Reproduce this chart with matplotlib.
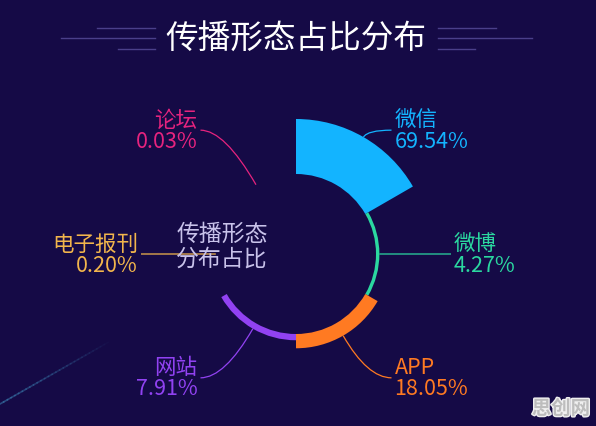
import numpy as np
import matplotlib
matplotlib.use('Agg')
import matplotlib.pyplot as plt
from matplotlib.patches import Wedge, PathPatch
from matplotlib.path import Path
import matplotlib.patheffects as pe

plt.rcParams['font.family'] = ['Noto Sans CJK SC', 'DejaVu Sans']

# Datos
nombres = ['微信', '微博', 'APP', '网站', '电子报刊', '论坛']
valores = [69.54, 4.27, 18.05, 7.91, 0.20, 0.03]
colores = ['#13b4ff', '#2bd8a0', '#ff7a22', '#9142f2', '#f2b54c', '#e6237e']
titulo = '传播形态占比分布'
centro_txt = '传播形态\n分布占比'

bg = '#150a46'
W, H = 596, 427
cx, cy = 296, 255
r0, r1 = 80, 135

fig = plt.figure(figsize=(W/100, H/100), dpi=100, facecolor=bg)
ax = fig.add_axes([0, 0, 1, 1])
ax.set_xlim(0, W)
ax.set_ylim(H, 0)
ax.set_aspect('equal')
ax.axis('off')
ax.set_facecolor(bg)

# Rosa tipo 'area': angulos iguales, radio segun valor
n = len(valores)
paso = 360 / n
vmax = max(valores)
for i, (nom, v, c) in enumerate(zip(nombres, valores, colores)):
    # eje y invertido: angulos en sentido horario desde las 12
    a_ini = -90 + i*paso
    a_fin = a_ini + paso
    r = r0 + (r1 - r0)*v/vmax
    if r - r0 > 0.3:
        ax.add_patch(Wedge((cx, cy), r, a_ini, a_fin, width=r - r0,
                           facecolor=c, edgecolor='none'))
    a_mid = np.deg2rad((a_ini + a_fin)/2)
    dx, dy = np.cos(a_mid), np.sin(a_mid)
    p0 = (cx + r*dx, cy + r*dy)
    horiz = abs(dy) < 0.1
    rl = 131 if horiz else 143
    p1 = (cx + rl*dx, cy + rl*dy)
    s = 1 if dx > 0 else -1
    p2 = (p1[0] + s*24, p1[1])
    path = Path([p0, p1, p2], [Path.MOVETO, Path.CURVE3, Path.CURVE3])
    ax.add_patch(PathPatch(path, facecolor='none', edgecolor=c, lw=0.9))
    ax.text(p2[0] + s*3, p2[1], f'{nom}\n{v:.2f}%', color=c, fontsize=15.5,
            ha='left' if s > 0 else 'right', va='center', linespacing=0.95)

# Texto central
ax.text(222, 247, centro_txt, color='#c8c2ea', fontsize=16.5,
        ha='center', va='center', linespacing=1.1)

# Titulo con lineas decorativas
ax.text(296, 39, titulo, color='white', fontsize=23.5, ha='center', va='center')
col_lin = '#4a3f8a'
for (xa, xb, y) in [(97, 155, 28.5), (61, 155, 39), (118, 155, 49.5)]:
    ax.plot([xa, xb], [y, y], color=col_lin, lw=1)
    ax.plot([W - xb - 3, W - xa - 3], [y, y], color=col_lin, lw=1)

# Destello diagonal abajo a la izquierda
xs = np.linspace(0, 108, 30)
ys = 405 - xs*0.57
for k in range(len(xs) - 1):
    ax.plot(xs[k:k+2], ys[k:k+2], color='#3a7fb0', lw=1.2,
            alpha=0.55*(1 - k/len(xs)))

# Marca de agua
ax.text(561, 410, '思创网', color='#bdbdbd', fontsize=14, fontweight='bold',
        ha='center', va='center',
        path_effects=[pe.withStroke(linewidth=2, foreground='#f0f0f0')])

fig.savefig('out.png', dpi=100, facecolor=bg)
